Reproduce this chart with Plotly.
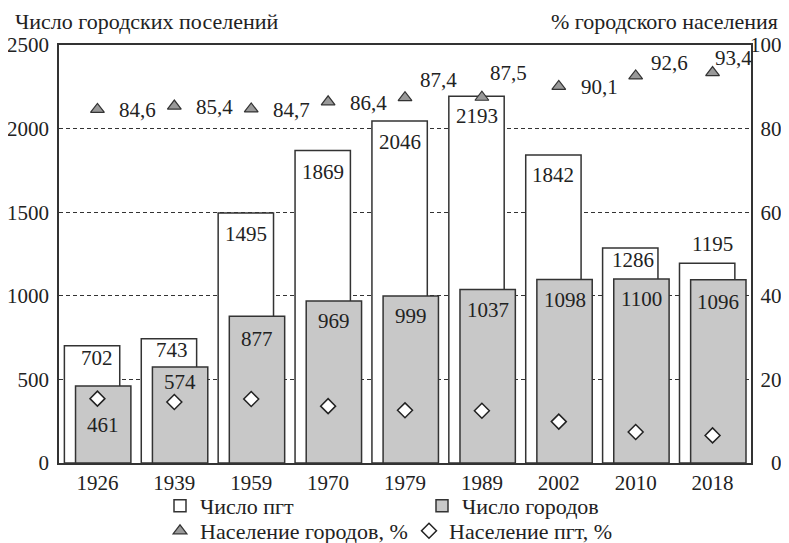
import plotly.graph_objects as go

years = ["1926", "1939", "1959", "1970", "1979", "1989", "2002", "2010", "2018"]
pgt_count = [702, 743, 1495, 1869, 2046, 2193, 1842, 1286, 1195]
city_count = [461, 574, 877, 969, 999, 1037, 1098, 1100, 1096]
city_pop_pct = [84.6, 85.4, 84.7, 86.4, 87.4, 87.5, 90.1, 92.6, 93.4]
pgt_pop_pct = [15.4, 14.6, 15.3, 13.6, 12.6, 12.5, 9.9, 7.4, 6.6]
pct_ticks = [0, 20, 40, 60, 80, 100]
count_ticks = [0, 500, 1000, 1500, 2000, 2500]

# label placement tweaks (pixels)
pgt_label_dy = [-12, -11, -21, -21, -21, -20, -20, -12, 19]
pgt_label_dx = [5, 3, 0, 0, 0, 0, 0, 3, 5]
city_label_dy = [-39, -15, -23, -20, -20, -20, -21, -20, -22]
tri_label_dx = [20, 20, 20, 20, 13, 6, 20, 13, 0]
tri_label_dy = [0, 0, 0, 0, 19, 25, 0, 14, 16]

FONT = "Liberation Serif"
FS = 21
INK = "#222222"
LINE = "#333333"
GRAY = "#c8c8c8"

# the page body adds an 8px offset; target positions are in screenshot pixels
OX, OY = 8, 8
W, H = 789, 543
PL, PR, PT, PB = 59, 751, 45, 463  # plot box in screenshot pixels
PW, PH = PR - PL, PB - PT

W_BAR = 0.72
OFF_PGT = -0.43
OFF_CITY = -0.285
xs = list(range(len(years)))

fig = go.Figure()
fig.add_trace(go.Bar(
    x=xs, y=pgt_count, width=W_BAR, offset=OFF_PGT, name="Число пгт",
    marker=dict(color="white", line=dict(color=LINE, width=1.5)),
    legend="legend", hoverinfo="skip"))
fig.add_trace(go.Bar(
    x=xs, y=city_count, width=W_BAR, offset=OFF_CITY, name="Число городов",
    marker=dict(color=GRAY, line=dict(color=LINE, width=1.5)),
    legend="legend", hoverinfo="skip"))
fig.add_trace(go.Scatter(
    x=xs, y=city_pop_pct, yaxis="y2", mode="markers", name="Население городов, %",
    marker=dict(symbol="triangle-up", size=12, color="#999999", line=dict(color=LINE, width=1.2)),
    legend="legend2", hoverinfo="skip"))
fig.add_trace(go.Scatter(
    x=xs, y=pgt_pop_pct, yaxis="y2", mode="markers", name="Население пгт, %",
    marker=dict(symbol="diamond", size=11.5, color="white", line=dict(color=INK, width=1.5)),
    legend="legend2", hoverinfo="skip"))

ann = []
for i, v in enumerate(pgt_count):
    ann.append(dict(x=i + OFF_PGT + W_BAR / 2, y=v, xref="x", yref="y", text=str(v),
                    showarrow=False, xshift=pgt_label_dx[i], yshift=pgt_label_dy[i],
                    font=dict(family=FONT, size=FS, color=INK)))
for i, v in enumerate(city_count):
    ann.append(dict(x=i + OFF_CITY + W_BAR / 2, y=v, xref="x", yref="y", text=str(v),
                    showarrow=False, yshift=city_label_dy[i],
                    font=dict(family=FONT, size=FS, color=INK)))
for i, v in enumerate(city_pop_pct):
    ann.append(dict(x=i, y=v, xref="x", yref="y2", text=f"{v:.1f}".replace(".", ","),
                    showarrow=False, xanchor="left", xshift=tri_label_dx[i], yshift=tri_label_dy[i] - 1,
                    font=dict(family=FONT, size=FS, color=INK)))
ann.append(dict(x=(13 - PL) / PW, y=(PB - 22) / PH, xref="paper", yref="paper", xanchor="left",
                yanchor="middle", text="Число городских поселений", showarrow=False,
                font=dict(family=FONT, size=22, color=INK)))
ann.append(dict(x=(780 - PL) / PW, y=(PB - 22) / PH, xref="paper", yref="paper", xanchor="right",
                yanchor="middle", text="% городского населения", showarrow=False,
                font=dict(family=FONT, size=22, color=INK)))

FIG_SP = "\u2007"
pct_text = [FIG_SP * (3 - len(str(t))) + str(t) for t in pct_ticks]

LEG_FS = 22
leg_common = dict(orientation="h", xanchor="left", yanchor="top", bgcolor="rgba(0,0,0,0)",
                  font=dict(family=FONT, size=LEG_FS, color=INK), itemwidth=30,
                  entrywidthmode="pixels", traceorder="normal")
fig.update_layout(
    width=W, height=H,
    margin=dict(l=PL - OX, r=W - (PR - OX), t=PT - OY, b=H - (PB - OY), autoexpand=False),
    paper_bgcolor="white", plot_bgcolor="white",
    barmode="overlay",
    font=dict(family=FONT, size=FS, color=INK),
    annotations=ann,
    xaxis=dict(range=[-0.5, 8.5], tickvals=xs, ticktext=years, showgrid=False,
               showline=True, mirror=True, linecolor=LINE, linewidth=1.5, ticks="",
               zeroline=False, ticklabelstandoff=0, automargin=False),
    yaxis=dict(range=[0, 2500], tickvals=count_ticks, showgrid=True,
               gridcolor=LINE, gridwidth=1, griddash="4px,3px", showline=True, mirror=True,
               linecolor=LINE, linewidth=1.5, ticks="", zeroline=False, ticklabelstandoff=4,
               automargin=False),
    yaxis2=dict(range=[0, 100], tickvals=pct_ticks, ticktext=pct_text, overlaying="y", side="right",
                showgrid=False, showline=False, ticks="", zeroline=False, ticklabelstandoff=-2,
                automargin=False),
    legend=dict(x=(160 - PL) / PW, y=(PB - 485) / PH, entrywidth=262 - 45, **leg_common),
    legend2=dict(x=(160 - PL) / PW, y=(PB - 510) / PH, entrywidth=249 - 45, **leg_common),
)

fig.write_html("out.html")
